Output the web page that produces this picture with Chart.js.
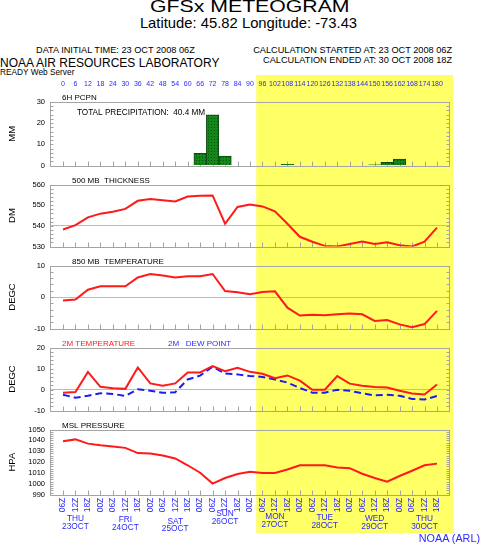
<!DOCTYPE html>
<html>
<head>
<meta charset="utf-8">
<script src="https://cdn.jsdelivr.net/npm/chart.js@4"></script>
<style>
  body { margin: 0; width: 480px; height: 545px; position: relative; overflow: hidden; background: #fff;
         font-family: "Liberation Sans", Arial, sans-serif; }
  .t { position: absolute; white-space: nowrap; line-height: 1; color: #000; }
  canvas { position: absolute; left: 0; }
</style>
</head>
<body>
<div class="t" style="left:0;width:500px;text-align:center;top:-1.7px;font-size:17px">
  <span style="display:inline-block;transform:scaleX(1.25)">GFSx METEOGRAM</span></div>
<div class="t" style="left:0;width:497px;text-align:center;top:15.6px;font-size:14.8px">Latitude: 45.82 Longitude: -73.43</div>
<div class="t" style="left:36px;top:46.2px;font-size:9.2px">DATA INITIAL TIME: 23 OCT 2008 06Z</div>
<div class="t" style="right:28px;top:46.2px;font-size:9.2px">CALCULATION STARTED AT: 23 OCT 2008 06Z</div>
<div class="t" style="right:28px;top:55.5px;font-size:9.2px">CALCULATION ENDED AT: 30 OCT 2008 18Z</div>
<div class="t" style="left:0;top:56.5px;font-size:12px">NOAA AIR RESOURCES LABORATORY</div>
<div class="t" style="left:0;top:67.7px;font-size:8.3px">READY Web Server</div>

<script>
// Forecast hours along the top, valid times along the bottom
const hourLabels = ['0','6','12','18','24','30','36','42','48','54','60','66','72','78','84','90',
  '96','102','108','114','120','126','132','138','144','150','156','162','168','174','180']
const timeLabels = ['06Z','12Z','18Z','00Z','06Z','12Z','18Z','00Z','06Z','12Z','18Z','00Z','06Z','12Z','18Z','00Z',
  '06Z','12Z','18Z','00Z','06Z','12Z','18Z','00Z','06Z','12Z','18Z','00Z','06Z','12Z','18Z']
const dayNames = ['THU','FRI','SAT','SUN','MON','TUE','WED','THU']
const dayDates = ['23OCT','24OCT','25OCT','26OCT','27OCT','28OCT','29OCT','30OCT']
const dayTicks = [1, 5, 9, 13, 17, 21, 25, 29]

// Series (one value per 6 h step)
const pcpn = [0,0,0,0,0,0,0,0,0,0,0,5.8,23.9,4.4,0,0,0,0,0.6,0,0,0,0,0,0,0.3,1.5,3.0,0,0,0]
const totalPcpn = '40.4'
const thickness = [538.2,540.3,544.1,545.9,546.8,548.2,552.1,553.0,552.4,551.8,554.2,554.5,554.7,541.0,549.1,550.3,
  549.4,547.0,541.0,534.7,532.3,530.3,530.0,531.2,532.4,531.2,532.0,530.6,530.0,532.3,539.1]
const temp850 = [-1.1,-0.8,2.3,3.4,3.4,3.4,6.2,7.3,6.8,6.2,6.6,6.6,7.3,1.9,1.5,0.9,
  1.6,1.8,-3.4,-5.9,-5.6,-5.8,-5.5,-5.2,-5.5,-7.6,-7.3,-8.7,-9.6,-8.6,-4.4]
const temp2m = [-1.5,-1.2,8.4,1.3,0.6,0.3,10.5,2.9,1.8,2.9,8.1,8.1,11.2,8.7,10.3,8.4,
  7.5,5.4,6.7,4.2,-0.1,-0.1,6.4,2.8,1.8,1.2,0.9,-0.6,-1.9,-2.4,2.4]
const dew2m = [-2.5,-3.9,-3.0,-1.8,-2.1,-3.1,0.1,-0.6,-1.6,-1.3,4.8,6.6,10.9,7.6,7.2,6.4,
  6.0,4.8,3.3,0.7,-1.5,-1.5,-0.1,-0.6,-1.8,-2.8,-2.5,-3.0,-4.5,-4.8,-3.1]
const mslp = [1039.1,1040.9,1037.0,1035.5,1034.3,1033.1,1028.3,1028.0,1026.1,1023.4,1017.1,1010.2,1000.2,1005.4,1009.0,1011.1,
  1009.9,1009.9,1013.2,1017.1,1017.1,1017.1,1015.0,1014.4,1009.3,1005.4,1002.0,1007.2,1012.0,1017.1,1018.6]

// forecast part (after 90h) is shaded yellow
const BAND_FROM = 15.5
const BAND_TO = 31.3

const FONT = '"Liberation Sans", Arial, sans-serif'
const BLUE = '#2a2aff'
const RED = '#ff1a1a'
const X_MIN = -1.043
const X_MAX = 30.963

const xy = arr => arr.map((v, i) => ({ x: i, y: v }))

// green stippled fill for the precip bars
const pc = document.createElement('canvas')
pc.width = 3; pc.height = 3
const pctx = pc.getContext('2d')
pctx.fillStyle = '#14861a'; pctx.fillRect(0, 0, 3, 3)
pctx.fillStyle = '#06500a'; pctx.fillRect(1, 1, 1, 1)
const barFill = pctx.createPattern(pc, 'repeat')

const dayDrop = [0, 1, 2.4, -5, -2.3, -1, 0, 0]

const meteo = {
  id: 'meteo',
  beforeDraw (chart, args, o) {
    const { ctx, scales: { x } } = chart
    const x0 = x.getPixelForValue(BAND_FROM)
    const x1 = x.getPixelForValue(BAND_TO)
    ctx.save()
    ctx.fillStyle = '#ffff66'
    ctx.fillRect(x0, 0, x1 - x0, o.bandBottom || chart.height)
    ctx.restore()
  },
  beforeDatasetsDraw (chart, args, o) {
    const { ctx, chartArea: a, scales: { x, y } } = chart
    ctx.save()
    ctx.strokeStyle = '#a4a4a4'
    ctx.lineWidth = 1
    const l = Math.round(a.left) + 0.5, r = Math.round(a.right) + 0.5
    const t = Math.round(a.top) + 0.5, b = Math.round(a.bottom) + 0.5
    ctx.strokeRect(l, t, r - l, b - t)
    ctx.beginPath()
    // minor ticks on both sides
    const step = y.options.ticks.stepSize / 5
    const n = Math.round((y.max - y.min) / step)
    for (let k = 0; k <= n; k++) {
      const py = Math.round(y.getPixelForValue(y.min + k * step)) + 0.5
      ctx.moveTo(l, py); ctx.lineTo(l + 3, py)
      ctx.moveTo(r, py); ctx.lineTo(r - 3, py)
    }
    // time ticks
    for (let i = 0; i < hourLabels.length; i++) {
      const px = Math.round(x.getPixelForValue(i)) + 0.5
      ctx.moveTo(px, b); ctx.lineTo(px, b - 5)
    }
    ctx.stroke()
    ctx.restore()
  },
  afterDraw (chart, args, o) {
    const { ctx, chartArea: a, scales: { x } } = chart
    ctx.save()
    ctx.textBaseline = 'alphabetic'
    ctx.font = `8px ${FONT}`
    ;(o.titles || []).forEach(t => {
      ctx.fillStyle = t.color || '#000'
      ctx.fillText(t.text, t.x, a.top - 2)
    })
    if (o.note) {
      ctx.fillStyle = '#000'
      ctx.font = `8.2px ${FONT}`
      ctx.fillText(o.note, 77, a.top + 12.6)
    }
    if (o.days) {
      ctx.fillStyle = BLUE
      ctx.font = `8.3px ${FONT}`
      ctx.textAlign = 'center'
      dayTicks.forEach((d, k) => {
        const px = x.getPixelForValue(d)
        ctx.fillText(dayNames[k], px, a.bottom + 26.6 + dayDrop[k])
        ctx.fillText(dayDates[k], px, a.bottom + 34.3 + dayDrop[k])
      })
    }
    ctx.restore()
  }
}
Chart.register(meteo)

const tickAxis = {
  type: 'linear', min: X_MIN, max: X_MAX, offset: false, display: true,
  afterBuildTicks: s => { s.ticks = hourLabels.map((_, i) => ({ value: i })) },
  grid: { display: false, drawTicks: false, offset: false },
  border: { display: false }
}

function options (p) {
  return {
    responsive: false,
    animation: false,
    events: [],
    layout: { padding: { top: p.padTop, bottom: p.padBottom, left: 0, right: 31 } },
    scales: {
      x: p.x || { type: 'linear', min: X_MIN, max: X_MAX, offset: false, display: false, grid: { offset: false } },
      y: {
        min: p.min,
        max: p.max,
        afterFit: s => { s.width = 50 },
        border: { display: false },
        grid: {
          drawTicks: false,
          color: c => (c.tick && c.tick.value === p.ref) ? '#b6b6e6' : 'rgba(0,0,0,0)'
        },
        ticks: { stepSize: p.step, autoSkip: false, color: '#000', padding: 5, font: { size: 7.5, family: FONT },
          callback: v => String(v) },
        title: { display: true, text: p.unit, color: '#000', padding: { top: 6.5 }, font: { size: 9.5, family: FONT } }
      }
    },
    plugins: { legend: { display: false }, tooltip: { enabled: false }, meteo: p.meteo }
  }
}

function panel (top, height, cfg) {
  const c = document.createElement('canvas')
  c.width = 480
  c.height = height
  c.style.top = top + 'px'
  document.body.appendChild(c)
  return new Chart(c, cfg)
}

const redLine = data => ({ data: xy(data), borderColor: RED, borderWidth: 2, pointRadius: 0, tension: 0 })

// 6H precipitation
panel(75, 100, {
  type: 'bar',
  data: {
    datasets: [{
      data: xy(pcpn), backgroundColor: barFill, borderColor: '#0c4a10', borderWidth: 1,
      barPercentage: 1, categoryPercentage: 1
    }]
  },
  options: options({
    padTop: 0, padBottom: 8, min: 0, max: 30, step: 10, unit: 'MM',
    x: Object.assign({}, tickAxis, {
      position: 'top',
      afterFit: s => { s.height = 27 },
      ticks: { autoSkip: false, maxRotation: 0, minRotation: 0, padding: 13.5, color: BLUE,
        font: { size: 7, family: FONT }, callback: v => hourLabels[v] }
    }),
    meteo: { titles: [{ text: '6H PCPN', x: 62 }], note: 'TOTAL PRECIPITATION:  ' + totalPcpn + ' MM' }
  })
})

// 500 mb thickness
panel(175, 81, {
  type: 'line',
  data: { datasets: [redLine(thickness)] },
  options: options({
    padTop: 8.3, padBottom: 6.7, min: 530, max: 560, step: 10, unit: 'DM', ref: 540,
    meteo: { titles: [{ text: '500 MB  THICKNESS', x: 72 }] }
  })
})

// 850 mb temperature
panel(256, 82, {
  type: 'line',
  data: { datasets: [redLine(temp850)] },
  options: options({
    padTop: 8.7, padBottom: 7.3, min: -10, max: 10, step: 10, unit: 'DEGC', ref: 0,
    meteo: { titles: [{ text: '850 MB  TEMPERATURE', x: 72 }] }
  })
})

// 2 m temperature and dew point
panel(338, 82, {
  type: 'line',
  data: {
    datasets: [
      redLine(temp2m),
      { data: xy(dew2m), borderColor: '#1c1cf0', borderWidth: 2, borderDash: [7, 4], pointRadius: 0, tension: 0 }
    ]
  },
  options: options({
    padTop: 8.5, padBottom: 7.3, min: -10, max: 20, step: 10, unit: 'DEGC', ref: 0,
    meteo: { titles: [{ text: '2M TEMPERATURE', x: 62, color: RED }, { text: '2M   DEW POINT', x: 168, color: BLUE }] }
  })
})

// MSL pressure
panel(420, 125, {
  type: 'line',
  data: { datasets: [redLine(mslp)] },
  options: options({
    padTop: 8.3, padBottom: 0, min: 990, max: 1050, step: 10, unit: 'HPA',
    x: Object.assign({}, tickAxis, {
      position: 'bottom',
      afterFit: s => { s.height = 50.3 },
      ticks: { autoSkip: false, maxRotation: 90, minRotation: 90, padding: 3, color: BLUE,
        font: { size: 8.5, family: FONT }, callback: v => timeLabels[v] }
    }),
    meteo: { titles: [{ text: 'MSL PRESSURE', x: 62 }], days: true, bandBottom: 113 }
  })
})
</script>
<div class="t" style="right:0;top:532.5px;font-size:10.8px;color:#2a2aff">NOAA (ARL)</div>
</body>
</html>
